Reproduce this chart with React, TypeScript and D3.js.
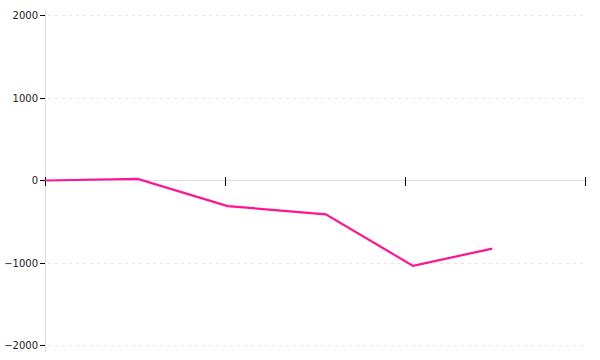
import React from "react";
import * as d3 from "d3";

const xValues = [0, 1.03, 2.03, 3.12, 4.09, 4.97];
const yValues = [0, 20, -310, -410, -1035, -825];
const yTicks = [-2000, -1000, 0, 1000, 2000];
const xTicks = [0, 2, 4, 6];

export default function App() {
  const W = 600, H = 360;
  const x = d3.scaleLinear().domain([0, 6]).range([45, 585]);
  const y = d3.scaleLinear().domain([-2000, 2000]).range([345.5, 15.5]);
  const line = d3.line<number>().x((_, i) => x(xValues[i])).y((d) => y(d));
  const y0 = y(0);
  return (
    <svg width={W} height={H} style={{ position: "absolute", left: 0, top: 0 }}>
      {yTicks.filter((t) => t !== 0).map((t) => (
        <line key={"g" + t} x1={x(0) + 3} x2={585} y1={y(t)} y2={y(t)} stroke="#e6e6e6" strokeDasharray="3,4" shapeRendering="crispEdges" />
      ))}
      <line x1={x(0) + 0.5} x2={x(0) + 0.5} y1={10} y2={352} stroke="#dddddd" shapeRendering="crispEdges" />
      <line x1={x(0)} x2={585} y1={y0} y2={y0} stroke="#dddddd" shapeRendering="crispEdges" />
      {yTicks.map((t) => (
        <g key={"t" + t}>
          <line x1={40} x2={45} y1={y(t)} y2={y(t)} stroke="#000" shapeRendering="crispEdges" />
          <text x={38} y={y(t)} dy="0.35em" textAnchor="end" fontFamily="DejaVu Sans" fontSize={10} fill="#222">
            {t < 0 ? "\u2212" + Math.abs(t) : t}
          </text>
        </g>
      ))}
      {xTicks.map((t) => (
        <line key={"x" + t} x1={x(t) + 0.5} x2={x(t) + 0.5} y1={y0 - 4} y2={y0 + 5} stroke="#000" shapeRendering="crispEdges" />
      ))}
      <path d={line(yValues) || ""} fill="none" stroke="#ff1493" strokeWidth={2.2} />
    </svg>
  );
}
